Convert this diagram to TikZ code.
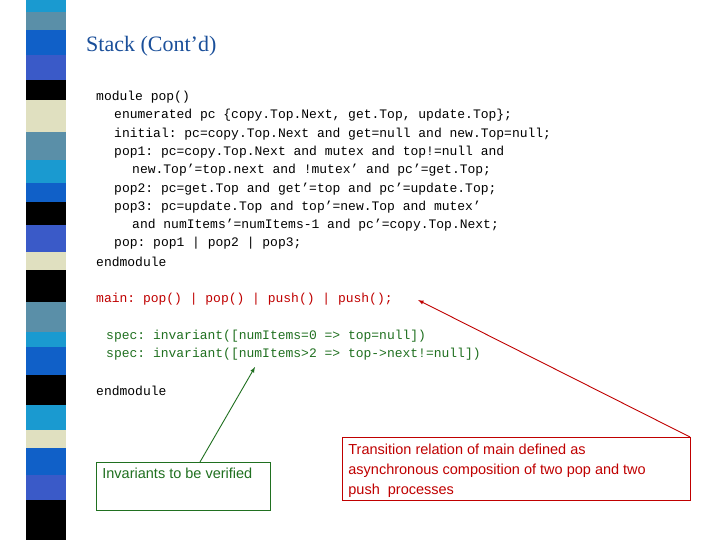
\documentclass[tikz,border=0pt]{standalone}
\usepackage{fontspec}
\setmainfont{Liberation Serif}
\setsansfont{Liberation Sans}
\setmonofont{Liberation Mono}
\definecolor{cy}{HTML}{1A9AD0}\definecolor{gb}{HTML}{5A8FA8}\definecolor{bl}{HTML}{1060C8}
\definecolor{ro}{HTML}{3A5AC8}\definecolor{be}{HTML}{E0E0C0}
\definecolor{ttl}{HTML}{1A4F9A}\definecolor{rd}{HTML}{C00000}\definecolor{gr}{HTML}{207020}
\begin{document}
\begin{tikzpicture}[x=1pt,y=-1pt,
  code/.style={anchor=west,inner sep=0,font=\ttfamily\fontsize{13}{15}\selectfont},
  note/.style={draw,line width=0.8pt,anchor=north west,align=left,font=\sffamily\fontsize{14.5}{20}\selectfont,inner sep=6pt,text depth=0pt}]
\useasboundingbox (0,0) rectangle (720,540);
\fill[white] (0,0) rectangle (720,540);
\foreach \a/\b/\c in {0/12/cy,12/30/gb,30/55/bl,55/80/ro,80/100/black,100/132/be,132/160/gb,160/183/cy,183/202/bl,202/225/black,225/252/ro,252/270/be,270/302/black,302/332/gb,332/347/cy,347/375/bl,375/405/black,405/430/cy,430/448/be,448/475/bl,475/500/ro,500/540/black}
  \fill[\c] (26,\a) rectangle (66,\b);
\node[anchor=west,inner sep=0,text=ttl,font=\fontsize{22}{24}\selectfont] (title) at (86,46) {Stack (Cont’d)};
\node[code] (l1) at (96,97) {module pop()};
\node[code] (l2) at (114,115) {enumerated pc \{copy.Top.Next, get.Top, update.Top\};};
\node[code] (l3) at (114,134) {initial: pc=copy.Top.Next and get=null and new.Top=null;};
\node[code] (l4) at (114,152) {pop1: pc=copy.Top.Next and mutex and top!=null and};
\node[code] (l5) at (132,170) {new.Top’=top.next and !mutex’ and pc’=get.Top;};
\node[code] (l6) at (114,189) {pop2: pc=get.Top and get’=top and pc’=update.Top;};
\node[code] (l7) at (114,207) {pop3: pc=update.Top and top’=new.Top and mutex’};
\node[code] (l8) at (132,225) {and numItems’=numItems-1 and pc’=copy.Top.Next;};
\node[code] (l9) at (114,243) {pop: pop1 | pop2 | pop3;};
\node[code] (l10) at (96,262) {endmodule};
\node[code,text=rd] (mainl) at (96,299) {main: pop() | pop() | push() | push();};
\node[code,text=gr] (s1) at (106,336) {spec: invariant([numItems=0 => top=null])};
\node[code,text=gr] (s2) at (106,354) {spec: invariant([numItems>2 => top->next!=null])};
\node[code] (l11) at (96,391) {endmodule};
\draw[gr,line width=0.8pt] (96,462) rectangle (270,510);
\node[note,draw=none,text=gr] (gbox) at (96,462) {Invariants to be verified};
\draw[rd,line width=0.8pt] (342,437) rectangle (690,500);
\node[note,draw=none,text=rd,inner sep=4pt] (rbox) at (344,440) {Transition relation of main defined as\\asynchronous composition of two pop and two\\push\ \ processes};
\coordinate (gt) at (200,462);
\coordinate (rt) at (690,437);
\coordinate (ga) at (255,367);
\coordinate (ra) at (418,300);
\draw[gr,line width=0.9pt,-latex] (gt) -- (ga);
\draw[rd,line width=0.9pt,-latex] (rt) -- (ra);
\end{tikzpicture}
\end{document}
